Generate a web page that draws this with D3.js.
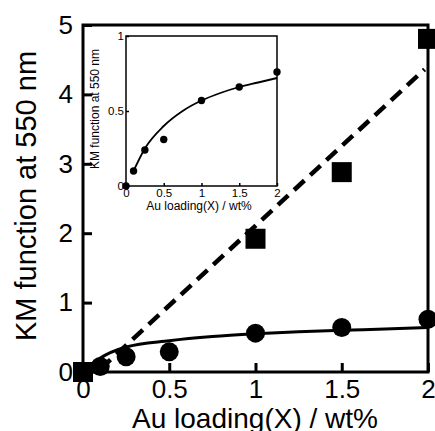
<!DOCTYPE html>
<html>
<head>
<meta charset="utf-8">
<script src="https://cdn.jsdelivr.net/npm/d3@7"></script>
<style>
body { margin: 0; background: #fff; }
text { font-family: "Liberation Sans", Arial, sans-serif; fill: #000; }
</style>
</head>
<body>
<div class="container"></div>
<script>
// main panel data
var squareX = [0, 1, 1.5, 2];
var squareY = [0, 1.92, 2.88, 4.8];
var circleX = [0, 0.1, 0.25, 0.5, 1, 1.5, 2];
var circleY = [0, 0.08, 0.22, 0.29, 0.56, 0.64, 0.76];
var curveX = [0, 0.1, 0.25, 0.5, 0.75, 1, 1.25, 1.5, 1.75, 2];
var curveY = [0, 0.2, 0.36, 0.45, 0.51, 0.55, 0.58, 0.6, 0.62, 0.64];
var dashX = [0.1, 1.98];
var dashY = [0.04, 4.36];
var mainXTicks = [0, 0.5, 1, 1.5, 2];
var mainYTicks = [0, 1, 2, 3, 4, 5];

// inset data
var insetX = [0, 0.1, 0.25, 0.5, 1, 1.5, 2];
var insetY = [0, 0.1, 0.24, 0.31, 0.57, 0.66, 0.76];
var insetCurveX = [0.1, 0.25, 0.5, 0.75, 1, 1.25, 1.5, 1.75, 2];
var insetCurveY = [0.1, 0.25, 0.4, 0.5, 0.57, 0.62, 0.66, 0.69, 0.72];
var insetXTicks = [0, 0.5, 1, 1.5, 2];
var insetYTicks = [0, 0.5, 1];

const WIDTH = 435;
const HEIGHT = 431;

var svg = d3.select(".container").append('svg')
	.attr('width', WIDTH)
	.attr('height', HEIGHT);

var fmt = function(d){ return String(d); };

var drawPanel = function(o){
	var xScale = d3.scaleLinear().domain(o.xd).range([o.left, o.right]);
	var yScale = d3.scaleLinear().domain(o.yd).range([o.bottom, o.top]);

	var xAxis = d3.axisBottom(xScale).tickValues(o.xt).tickFormat(fmt)
		.tickSizeInner(-o.tick).tickSizeOuter(0).tickPadding(o.xpad);
	var yAxis = d3.axisLeft(yScale).tickValues(o.yt).tickFormat(fmt)
		.tickSizeInner(-o.tick).tickSizeOuter(0).tickPadding(o.ypad);

	var gx = svg.append('g')
		.attr('transform', 'translate(0,' + o.bottom + ')')
		.call(xAxis);
	var gy = svg.append('g')
		.attr('transform', 'translate(' + o.left + ',0)')
		.call(yAxis);

	[gx, gy].forEach(function(g){
		g.select('.domain').remove();
		g.selectAll('line').attr('stroke', '#000').attr('stroke-width', o.sw);
		g.selectAll('text').attr('font-size', o.fs).attr('fill', '#000')
			.style('font-family', '"Liberation Sans", Arial, sans-serif');
	});

	svg.append('rect')
		.attr('x', o.left).attr('y', o.top)
		.attr('width', o.right - o.left).attr('height', o.bottom - o.top)
		.attr('fill', 'none').attr('stroke', '#000').attr('stroke-width', o.sw);

	return {x: xScale, y: yScale};
};

// main panel
var m = drawPanel({
	xd: [0, 2], yd: [0, 5], left: 83, right: 428, top: 25, bottom: 372,
	xt: mainXTicks, yt: mainYTicks, tick: 9, xpad: 8, ypad: 10, sw: 3, fs: 26
});

svg.append('text')
	.attr('transform', 'translate(36,196) rotate(-90)')
	.attr('text-anchor', 'middle')
	.attr('font-size', 29)
	.text('KM function at 550 nm');

svg.append('text')
	.attr('x', 255).attr('y', 428)
	.attr('text-anchor', 'middle')
	.attr('font-size', 28)
	.text('Au loading(X) / wt%');

// inset panel
var ins = drawPanel({
	xd: [0, 2], yd: [0, 1], left: 126, right: 277, top: 36, bottom: 186,
	xt: insetXTicks, yt: insetYTicks, tick: 3, xpad: 3, ypad: 2, sw: 1.5, fs: 11.5
});

svg.append('text')
	.attr('transform', 'translate(99,109) rotate(-90)')
	.attr('text-anchor', 'middle')
	.attr('font-size', 12)
	.text('KM function at 550 nm');

svg.append('text')
	.attr('x', 199).attr('y', 210)
	.attr('text-anchor', 'middle')
	.attr('font-size', 12)
	.text('Au loading(X) / wt%');

var insetLine = d3.line()
	.x(function(d){ return ins.x(d[0]); })
	.y(function(d){ return ins.y(d[1]); })
	.curve(d3.curveMonotoneX);

svg.append('path')
	.attr('d', insetLine(d3.zip(insetCurveX, insetCurveY)))
	.attr('fill', 'none').attr('stroke', '#000').attr('stroke-width', 1.8);

svg.append('g').selectAll('circle')
	.data(d3.zip(insetX, insetY))
	.enter().append('circle')
	.attr('cx', function(d){ return ins.x(d[0]); })
	.attr('cy', function(d){ return ins.y(d[1]); })
	.attr('r', 3.7)
	.attr('fill', '#000');

// main marks
var mainLine = d3.line()
	.x(function(d){ return m.x(d[0]); })
	.y(function(d){ return m.y(d[1]); });

svg.append('path')
	.attr('d', mainLine(d3.zip(dashX, dashY)))
	.attr('fill', 'none').attr('stroke', '#000').attr('stroke-width', 4.5)
	.attr('stroke-dasharray', '14,8');

svg.append('path')
	.attr('d', mainLine.curve(d3.curveMonotoneX)(d3.zip(curveX, curveY)))
	.attr('fill', 'none').attr('stroke', '#000').attr('stroke-width', 3);

svg.append('g').selectAll('circle')
	.data(d3.zip(circleX, circleY))
	.enter().append('circle')
	.attr('cx', function(d){ return m.x(d[0]); })
	.attr('cy', function(d){ return m.y(d[1]); })
	.attr('r', 9.5)
	.attr('fill', '#000');

svg.append('g').selectAll('rect')
	.data(d3.zip(squareX, squareY))
	.enter().append('rect')
	.attr('x', function(d){ return m.x(d[0]) - 10; })
	.attr('y', function(d){ return m.y(d[1]) - 10; })
	.attr('width', 20).attr('height', 20)
	.attr('fill', '#000');
</script>
</body>
</html>
